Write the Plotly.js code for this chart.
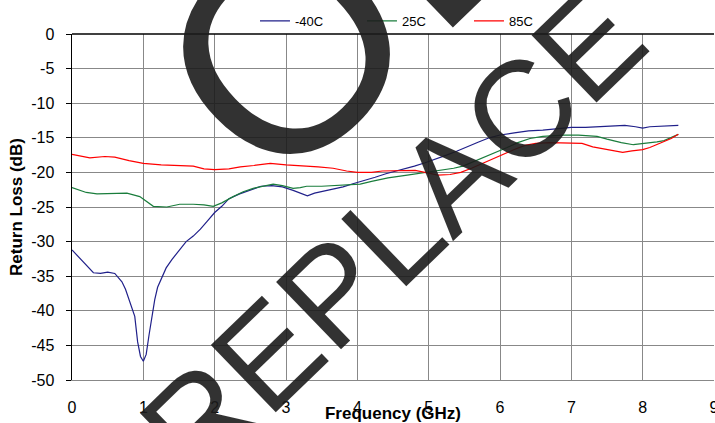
<!DOCTYPE html>
<html>
<head>
<meta charset="utf-8">
<script src="https://cdn.plot.ly/plotly-3.0.1.min.js"></script>
<style>html,body{margin:0;padding:0;background:#fff;}#chart{width:715px;height:423px;}</style>
</head>
<body>
<div id="chart"></div>
<script>
// Series names
const seriesNames = ["-40C", "25C", "85C"];

// -40C
const freqM40 = [0,0.1,0.2,0.3,0.4,0.5,0.6,0.7,0.75,0.8,0.85,0.88,0.92,0.96,1.0,1.04,1.08,1.12,1.16,1.2,1.26,1.32,1.4,1.5,1.6,1.7,1.8,1.9,2.0,2.1,2.2,2.35,2.5,2.65,2.8,2.95,3.1,3.2,3.3,3.4,3.5,3.65,3.8,3.95,4.1,4.25,4.4,4.6,4.8,4.95,5.1,5.25,5.4,5.55,5.7,5.85,6.0,6.2,6.4,6.6,6.8,7.0,7.2,7.4,7.6,7.75,7.9,8.0,8.1,8.3,8.4,8.5];
const rlM40 = [-31.2,-32.3,-33.4,-34.5,-34.6,-34.4,-34.6,-35.8,-36.9,-38.5,-40.0,-40.8,-44.5,-46.6,-47.3,-46.3,-43.5,-40.8,-38.4,-36.6,-35.2,-33.8,-32.6,-31.3,-30.0,-29.2,-28.2,-27.0,-25.8,-24.9,-23.8,-23.1,-22.5,-22.0,-21.9,-22.1,-22.6,-23.0,-23.4,-23.0,-22.8,-22.5,-22.1,-21.6,-21.2,-20.7,-20.2,-19.7,-19.1,-18.6,-18.1,-17.5,-16.9,-16.2,-15.6,-15.0,-14.6,-14.3,-14.0,-13.9,-13.7,-13.5,-13.5,-13.4,-13.2,-13.2,-13.4,-13.6,-13.4,-13.3,-13.2,-13.2];

// 25C
const freq25 = [0,0.1,0.2,0.35,0.5,0.77,0.95,1.05,1.14,1.33,1.51,1.7,1.85,1.98,2.1,2.26,2.4,2.54,2.7,2.82,2.95,3.1,3.2,3.29,3.5,3.66,3.85,4.04,4.2,4.43,4.7,4.91,5.02,5.19,5.35,5.48,5.6,5.72,5.9,6.1,6.25,6.42,6.6,6.89,7.1,7.36,7.5,7.7,7.87,8.06,8.2,8.3,8.4,8.5];
const rl25 = [-22.2,-22.6,-22.9,-23.1,-23.1,-23.0,-23.5,-24.2,-24.9,-25.0,-24.6,-24.6,-24.7,-24.9,-24.4,-23.5,-22.8,-22.3,-21.9,-21.7,-21.9,-22.3,-22.2,-22.0,-22.0,-21.9,-21.8,-21.7,-21.3,-20.8,-20.4,-20.1,-19.9,-19.7,-19.4,-19.1,-18.6,-18.0,-17.3,-16.4,-15.7,-15.1,-14.8,-14.6,-14.6,-14.8,-15.2,-15.7,-16.0,-15.8,-15.6,-15.4,-15.0,-14.5];

// 85C
const freq85 = [0,0.25,0.46,0.6,0.8,1.0,1.25,1.5,1.7,1.85,2.0,2.2,2.36,2.55,2.78,3.0,3.2,3.45,3.66,3.85,4.0,4.2,4.35,4.6,4.81,5.0,5.13,5.3,5.45,5.6,5.75,5.9,6.05,6.2,6.35,6.5,6.7,7.0,7.15,7.3,7.5,7.72,7.85,8.0,8.1,8.2,8.3,8.4,8.5];
const rl85 = [-17.4,-17.9,-17.7,-17.8,-18.3,-18.7,-18.9,-19.0,-19.1,-19.5,-19.6,-19.5,-19.2,-19.0,-18.7,-18.9,-19.0,-19.2,-19.4,-19.8,-20.0,-20.0,-19.8,-19.8,-19.7,-20.1,-20.4,-20.3,-20.0,-19.4,-18.7,-18.1,-17.4,-16.7,-16.1,-15.8,-15.7,-15.7,-15.8,-16.3,-16.7,-17.1,-16.9,-16.7,-16.4,-16.0,-15.6,-15.1,-14.5];

// Axis ticks
const xTicks = [0,1,2,3,4,5,6,7,8,9];
const yTicks = [0,-5,-10,-15,-20,-25,-30,-35,-40,-45,-50];

// Watermark words
const watermarkTop = "OBSOLETE";
const watermarkBottom = "REPLACE";

const colors = ["#20208a", "#1a7d3c", "#ff0000"];
const FONT = "Liberation Sans, Arial, sans-serif";

const traces = [
  {x: freqM40, y: rlM40, name: seriesNames[0]},
  {x: freq25, y: rl25, name: seriesNames[1]},
  {x: freq85, y: rl85, name: seriesNames[2]}
].map((t, i) => Object.assign(t, {
  type: "scatter", mode: "lines",
  line: {color: colors[i], width: 1.2, shape: "linear"}
}));

const layout = {
  width: 715, height: 423,
  margin: {l: 72, r: 1, t: 34, b: 43, pad: 0},
  paper_bgcolor: "#ffffff", plot_bgcolor: "#ffffff",
  font: {family: FONT, color: "#000", size: 16},
  showlegend: true,
  legend: {
    orientation: "h", x: 0.285, xanchor: "left", y: 1.038, yanchor: "middle",
    font: {family: FONT, size: 13, color: "#000"},
    bgcolor: "rgba(0,0,0,0)", borderwidth: 0,
    entrywidth: 62, entrywidthmode: "pixels"
  },
  xaxis: {
    range: [0, 9], tickvals: xTicks, ticktext: xTicks.map(String),
    showgrid: true, gridcolor: "#888888", gridwidth: 1,
    zeroline: false, showline: true, linecolor: "#888888", linewidth: 1,
    ticks: "", ticklabelstandoff: 13, automargin: false, ticklabeloverflow: "allow",
    tickfont: {family: FONT, size: 16, color: "#000"},
    title: {text: "Frequency (GHz)", font: {family: FONT, size: 17, color: "#000", weight: "bold"}, standoff: 0}
  },
  yaxis: {
    range: [-50, 0], tickvals: yTicks, ticktext: yTicks.map(String),
    showgrid: true, gridcolor: "#888888", gridwidth: 1,
    zeroline: false, showline: true, linecolor: "#000", linewidth: 1.5,
    ticks: "outside", ticklen: 5, tickcolor: "#000", tickwidth: 1,
    ticklabelstandoff: 8, automargin: false,
    tickfont: {family: FONT, size: 16, color: "#000"},
    title: {text: "Return Loss (dB)", font: {family: FONT, size: 17, color: "#000", weight: "bold"}, standoff: 4}
  },
  shapes: [
    {type: "line", xref: "paper", yref: "paper", x0: 0, x1: 1, y0: 1, y1: 1, line: {color: "#000", width: 1.5}, layer: "above"}
  ],
  annotations: [
    {text: watermarkBottom, xref: "paper", yref: "paper", x: 0.4992, y: 0.4234, xanchor: "center", yanchor: "middle",
     showarrow: false, textangle: -44, font: {family: FONT, size: 136, color: "rgba(28,28,28,0.9)"}},
    {text: watermarkTop, xref: "paper", yref: "paper", x: 1.0748, y: 2.283, xanchor: "center", yanchor: "middle",
     showarrow: false, textangle: -44, font: {family: FONT, size: 287, color: "rgba(28,28,28,0.9)"}}
  ]
};

Plotly.newPlot("chart", traces, layout, {displayModeBar: false, staticPlot: true});
</script>
</body>
</html>
